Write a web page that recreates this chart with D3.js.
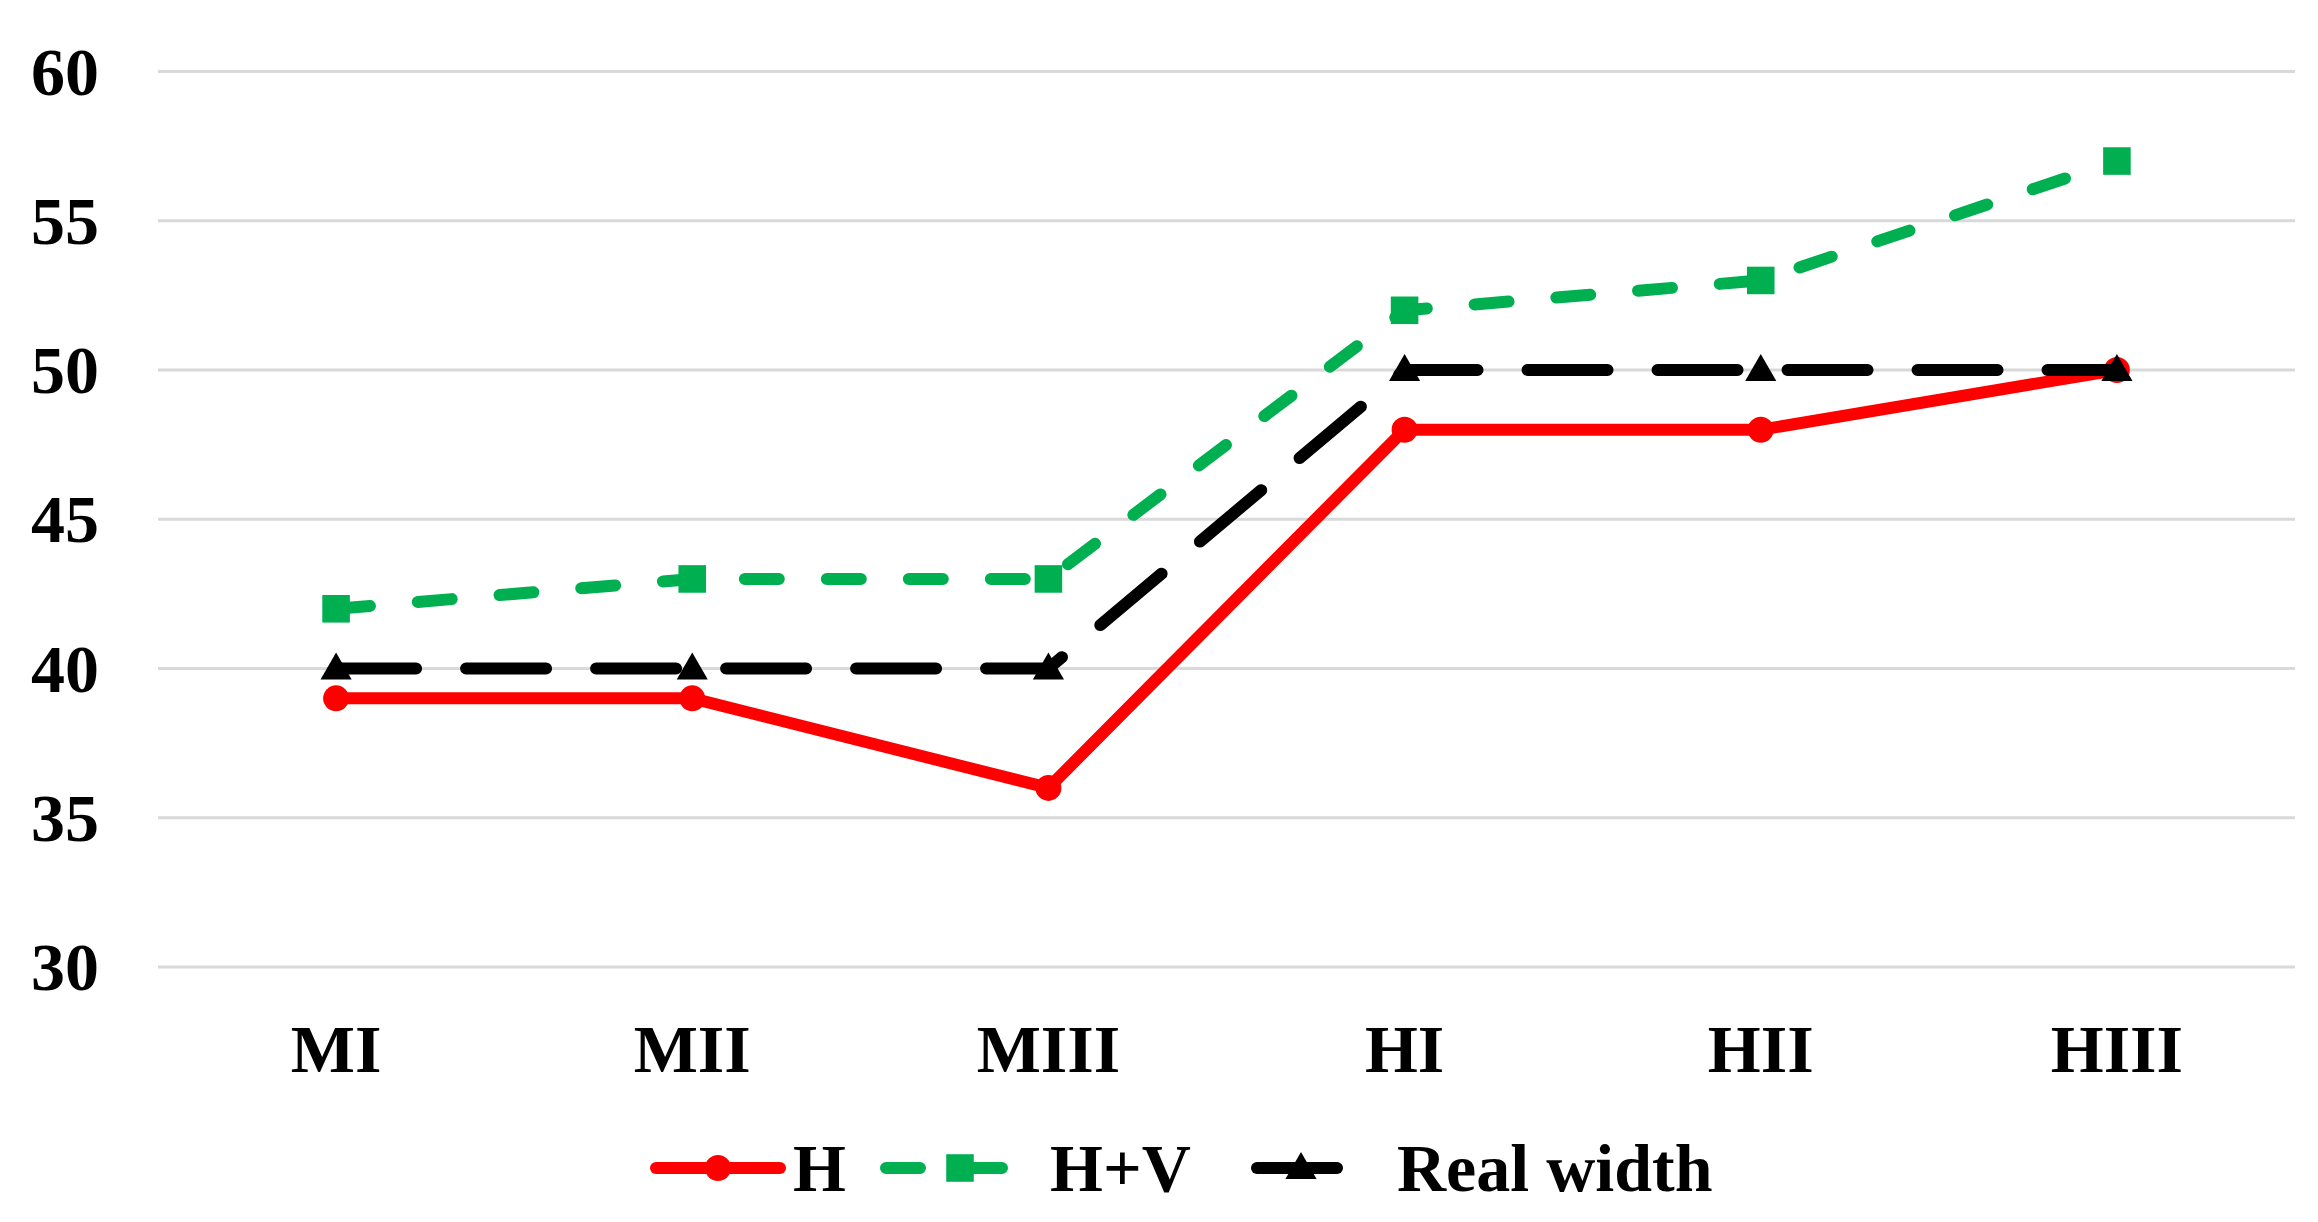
<!DOCTYPE html>
<html>
<head>
<meta charset="utf-8">
<script src="https://cdn.jsdelivr.net/npm/d3@7"></script>
<style>
html,body{margin:0;padding:0;background:#fff;}
svg{display:block;}
text{font-family:"Liberation Serif","Times New Roman",serif;font-weight:bold;fill:#000;}
</style>
</head>
<body>
<svg id="chart" width="2318" height="1222"></svg>
<script>
const categories = ["MI","MII","MIII","HI","HII","HIII"];
const seriesH = [39,39,36,48,48,50];
const seriesHV = [42,43,43,52,53,57];
const seriesReal = [40,40,40,50,50,50];
const yTicks = [30,35,40,45,50,55,60];
const seriesNames = ["H","H+V","Real width"];

(function(){
const svg = d3.select("#chart");
const plotLeft = 158, plotRight = 2295, plotTop = 71.5, plotBottom = 967;
const fs = 68;

const x = d3.scalePoint().domain(categories).range([plotLeft, plotRight]).padding(0.5);
const y = d3.scaleLinear().domain([30,60]).range([plotBottom, plotTop]);

// gridlines
svg.append("g").selectAll("line").data(yTicks).join("line")
  .attr("x1", plotLeft).attr("x2", plotRight)
  .attr("y1", d=>y(d)).attr("y2", d=>y(d))
  .attr("stroke", "#d9d9d9").attr("stroke-width", 3);

// y labels
svg.append("g").selectAll("text").data(yTicks).join("text")
  .attr("x", 99).attr("y", d=>y(d)).attr("dy", "0.34em")
  .attr("text-anchor", "end").attr("font-size", fs)
  .text(d=>d);

// x labels
svg.append("g").selectAll("text").data(categories).join("text")
  .attr("x", d=>x(d)).attr("y", 1072)
  .attr("text-anchor", "middle").attr("font-size", fs)
  .text(d=>d);

const series = [
  {name: seriesNames[0], values: seriesH, color: "#ff0000", dash: null, marker: "circle"},
  {name: seriesNames[1], values: seriesHV, color: "#00b050", dash: "34,48", marker: "square"},
  {name: seriesNames[2], values: seriesReal, color: "#000000", dash: "80,50", marker: "triangle"}
];

const line = d3.line().x((d,i)=>x(categories[i])).y(d=>y(d));
const symMap = {circle: d3.symbolCircle, square: d3.symbolSquare, triangle: d3.symbolTriangle};
const symSize = {circle: 530, square: 760, triangle: 420};

series.forEach(s => {
  const g = svg.append("g");
  g.append("path").datum(s.values)
    .attr("d", line).attr("fill", "none")
    .attr("stroke", s.color).attr("stroke-width", 12)
    .attr("stroke-linecap", "round").attr("stroke-linejoin", "round")
    .attr("stroke-dasharray", s.dash);
  const sym = d3.symbol().type(symMap[s.marker]).size(symSize[s.marker]);
  g.selectAll("path.m").data(s.values).join("path").attr("class","m")
    .attr("d", sym)
    .attr("transform", (d,i)=>`translate(${x(categories[i])},${y(d) + (s.marker==="triangle"?2:0)})`)
    .attr("fill", s.color);
});

// legend
const legendY = 1168;
const legendItems = [
  {s: series[0], x1: 656, x2: 780, tx: 793},
  {s: series[1], x1: 886, x2: 1034, tx: 1050},
  {s: series[2], x1: 1257, x2: 1345, tx: 1397}
];
legendItems.forEach(it => {
  const g = svg.append("g");
  g.append("line").attr("x1", it.x1).attr("x2", it.x2)
    .attr("y1", legendY).attr("y2", legendY)
    .attr("stroke", it.s.color).attr("stroke-width", 12)
    .attr("stroke-linecap", "round")
    .attr("stroke-dasharray", it.s.dash);
  const sym = d3.symbol().type(symMap[it.s.marker]).size(symSize[it.s.marker]);
  g.append("path").attr("d", sym)
    .attr("transform", `translate(${(it.x1+it.x2)/2},${legendY + (it.s.marker==="triangle"?2:0)})`)
    .attr("fill", it.s.color);
  g.append("text").attr("x", it.tx).attr("y", legendY + 23)
    .attr("font-size", fs).text(it.s.name);
});
})();
</script>
</body>
</html>
